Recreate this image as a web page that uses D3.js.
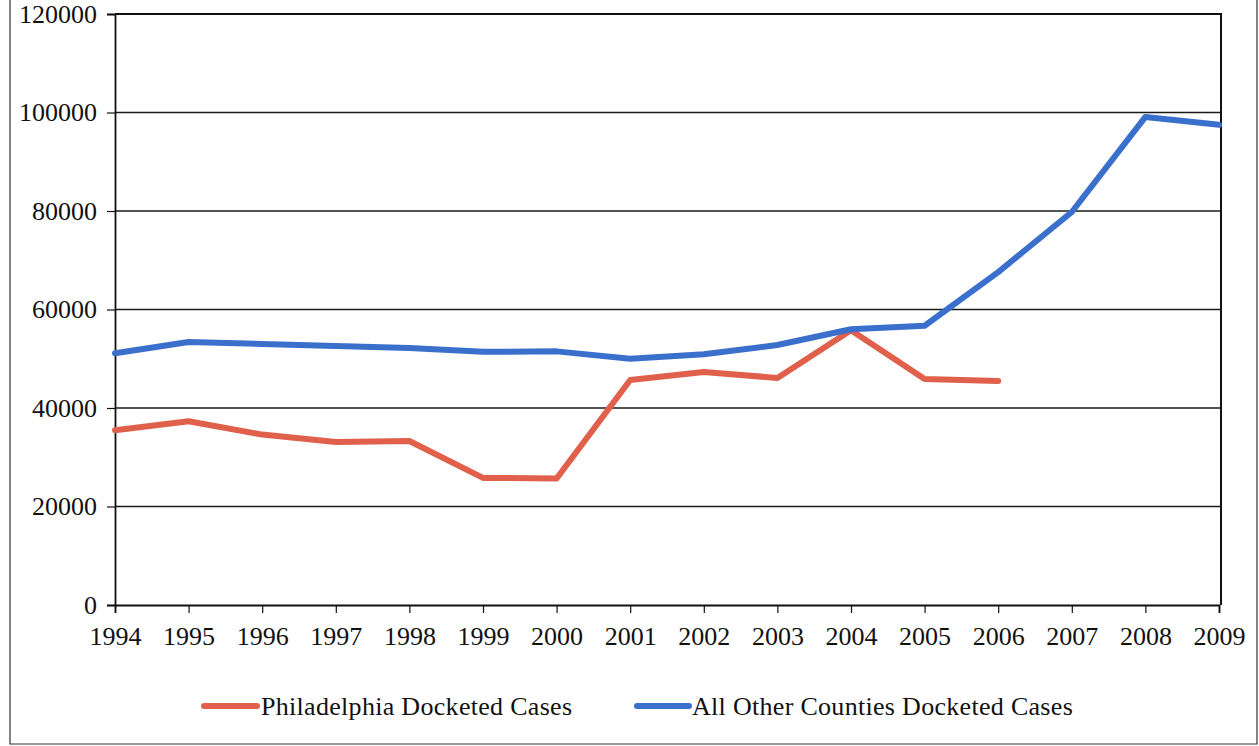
<!DOCTYPE html>
<html>
<head>
<meta charset="utf-8">
<script src="https://cdn.jsdelivr.net/npm/d3@7"></script>
<style>
  html, body { margin: 0; padding: 0; background: #fff; }
  svg { display: block; }
  text { font-family: "Liberation Serif", "DejaVu Serif", serif; fill: #111; }
</style>
</head>
<body>
<svg id="chart" width="1259" height="746"></svg>
<script>
// Docketed cases per year
const years = [1994, 1995, 1996, 1997, 1998, 1999, 2000, 2001, 2002, 2003, 2004, 2005, 2006, 2007, 2008, 2009];
const philadelphia = [35500, 37300, 34600, 33100, 33300, 25800, 25700, 45700, 47300, 46100, 55800, 45900, 45500];
const otherCounties = [51100, 53400, 53000, 52600, 52200, 51400, 51500, 50000, 50900, 52800, 56000, 56700, 67600, 79800, 99100, 97500];
const yTicks = [0, 20000, 40000, 60000, 80000, 100000, 120000];
const seriesNames = ["Philadelphia Docketed Cases", "All Other Counties Docketed Cases"];
const seriesColors = ["#e0604c", "#3b6fcc"];

const svg = d3.select("#chart");
const margin = { left: 115, right: 1219, top: 14, bottom: 605 };

const x = d3.scaleLinear().domain([years[0], years[years.length - 1]]).range([margin.left, margin.right]);
const y = d3.scaleLinear().domain([0, 120000]).range([margin.bottom, margin.top]);

// outer border
svg.append("path")
  .attr("d", "M10,0 L10,744 L1257,744 L1257,0")
  .attr("fill", "none").attr("stroke", "#333").attr("stroke-width", 1.2);

// gridlines
svg.append("g")
  .selectAll("line")
  .data(yTicks.filter(d => d > 0 && d < 120000))
  .join("line")
  .attr("x1", margin.left).attr("x2", margin.right + 2)
  .attr("y1", d => y(d)).attr("y2", d => y(d))
  .attr("stroke", "#1a1a1a").attr("stroke-width", 1.3);

// plot frame: top and right
svg.append("path")
  .attr("d", `M${margin.left},${margin.top} L${margin.right + 2},${margin.top} L${margin.right + 2},${margin.bottom}`)
  .attr("fill", "none").attr("stroke", "#111").attr("stroke-width", 2);

// y axis
const yAxis = d3.axisLeft(y).tickValues(yTicks).tickSize(8).tickPadding(10).tickFormat(d3.format("d"));
const gy = svg.append("g").attr("transform", `translate(${margin.left},0)`).call(yAxis);
gy.select(".domain").attr("stroke", "#111").attr("stroke-width", 1.8);
gy.selectAll(".tick line").attr("stroke", "#111").attr("stroke-width", 1.2);
gy.selectAll(".tick text")
  .style("font-size", "26px").style("font-family", "Liberation Serif")
  .attr("fill", "#111");

// x axis
const xAxis = d3.axisBottom(x).tickValues(years).tickSize(8).tickPadding(6).tickFormat(d3.format("d"));
const gx = svg.append("g").attr("transform", `translate(0,${margin.bottom})`).call(xAxis);
gx.select(".domain").attr("stroke", "#111").attr("stroke-width", 1.8);
gx.selectAll(".tick line").attr("stroke", "#111").attr("stroke-width", 1.2);
gx.selectAll(".tick text")
  .style("font-size", "26px").style("font-family", "Liberation Serif")
  .attr("fill", "#111")
  .attr("y", 40).attr("dy", 0);

// series lines
const line = d3.line().x((d, i) => x(years[i])).y(d => y(d));
[philadelphia, otherCounties].forEach((vals, k) => {
  svg.append("path")
    .datum(vals)
    .attr("d", line)
    .attr("fill", "none")
    .attr("stroke", seriesColors[k])
    .attr("stroke-width", 6)
    .attr("stroke-linejoin", "round")
    .attr("stroke-linecap", "round");
});

// legend
const legendItems = [
  { x0: 204, x1: 257, tx: 261 },
  { x0: 637, x1: 689, tx: 692 }
];
const lg = svg.append("g");
legendItems.forEach((it, k) => {
  lg.append("line")
    .attr("x1", it.x0).attr("x2", it.x1).attr("y1", 706).attr("y2", 706)
    .attr("stroke", seriesColors[k]).attr("stroke-width", 6).attr("stroke-linecap", "round");
  lg.append("text")
    .attr("x", it.tx).attr("y", 715)
    .style("font-size", "26px")
    .style("letter-spacing", "0.3px")
    .text(seriesNames[k]);
});
</script>
</body>
</html>
